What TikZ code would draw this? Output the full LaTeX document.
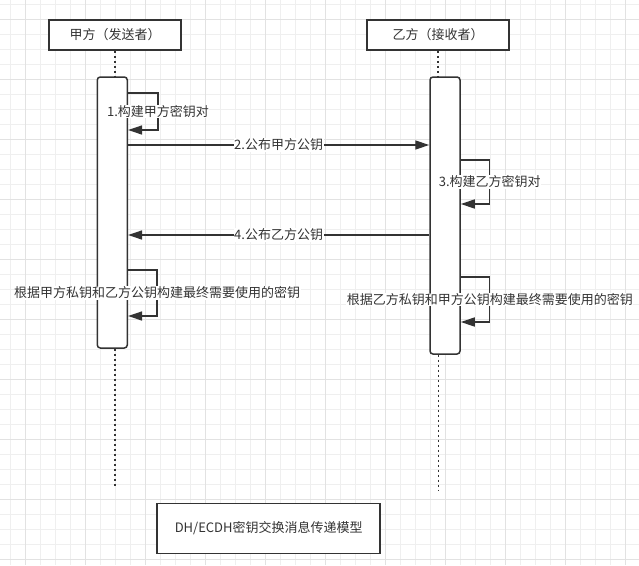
\documentclass[tikz,border=0pt]{standalone}
\usepackage{fontspec}
\setmainfont{Noto Sans CJK SC}
\usetikzlibrary{arrows.meta}
\definecolor{ink}{HTML}{333333}
\definecolor{gridminor}{HTML}{EFEFEF}
\definecolor{gridmajor}{HTML}{E2E2E2}
\tikzset{
  actorbox/.style={draw=ink, line width=1.5pt, fill=white, text=ink, minimum height=30pt, inner sep=0pt, font=\fontsize{13}{15}\selectfont},
  actbar/.style={draw=ink, line width=1.5pt, fill=white, rounded corners=3pt, minimum width=30pt, inner sep=0pt},
  titlebox/.style={draw=ink, line width=1.5pt, fill=white, text=ink, minimum width=223pt, minimum height=50pt, inner sep=0pt, font=\fontsize{13}{15}\selectfont},
  lifeline/.style={draw=ink, line width=1.5pt, dash pattern=on 2pt off 3pt},
  msg/.style={draw=ink, line width=1.4pt, -{Triangle[length=14pt,width=9pt]}},
  lbl/.style={fill=white, text=ink, inner sep=0.5pt, font=\fontsize{13}{15}\selectfont},
}
\begin{document}
\begin{tikzpicture}[x=1pt,y=-1pt]
\useasboundingbox (0,0) rectangle (639,565);
\fill[white] (0,0) rectangle (639,565);
% grid
\foreach \k in {0,...,41} \draw[gridminor, line width=0.8pt] ({10.7+15*\k},0) -- ({10.7+15*\k},565);
\foreach \k in {0,...,37} \draw[gridminor, line width=0.8pt] (0,{4.3+15*\k}) -- (639,{4.3+15*\k});
\foreach \k in {0,...,10} \draw[gridmajor, line width=0.8pt] ({25.7+60*\k},0) -- ({25.7+60*\k},565);
\foreach \k in {0,...,9} \draw[gridmajor, line width=0.8pt] (0,{19.3+60*\k}) -- (639,{19.3+60*\k});

% actors
\node[actorbox, minimum width=132pt] (A) at (115,35) {甲方（发送者）};
\node[actorbox, minimum width=142pt] (B) at (438,35) {乙方（接收者）};

% activation bars
\node[actbar, minimum height=271pt] (Aact) at (112.3,212.5) {};
\node[actbar, minimum height=277pt] (Bact) at (445,215.5) {};

% lifelines
\coordinate (Aend) at (115,486);
\coordinate (Bend) at (438.5,491);
\draw[lifeline] (A.south) -- (A.south |- Aact.north);
\draw[lifeline] (B.south) -- (B.south |- Bact.north);
\draw[lifeline] (Aend |- Aact.south) -- (Aend);
\draw[lifeline] (Bend |- Bact.south) -- (Bend);

% 1 self message
\draw[msg] (Aact.east |- 0,93) -- ++(30,0) -- node[lbl]{1.构建甲方密钥对} ++(0,37) -- (Aact.east |- 0,130);
% 2
\draw[msg] (Aact.east |- 0,145) -- node[lbl]{2.公布甲方公钥} (Bact.west |- 0,145);
% 3 self message
\draw[msg] (Bact.east |- 0,160) -- ++(29,0) -- node[lbl]{3.构建乙方密钥对} ++(0,44) -- (Bact.east |- 0,204);
% 4
\draw[msg] (Bact.west |- 0,235) -- node[lbl]{4.公布乙方公钥} (Aact.east |- 0,235);
% 5 self message
\draw[msg] (Aact.east |- 0,270) -- ++(29,0) -- node[lbl]{根据甲方私钥和乙方公钥构建最终需要使用的密钥} ++(0,46) -- (Aact.east |- 0,316);
% 6 self message
\draw[msg] (Bact.east |- 0,277) -- ++(29,0) -- node[lbl]{根据乙方私钥和甲方公钥构建最终需要使用的密钥} ++(0,45) -- (Bact.east |- 0,322);

% title
\node[titlebox] (T) at (268.7,528.3) {DH/ECDH密钥交换消息传递模型};
\end{tikzpicture}
\end{document}
